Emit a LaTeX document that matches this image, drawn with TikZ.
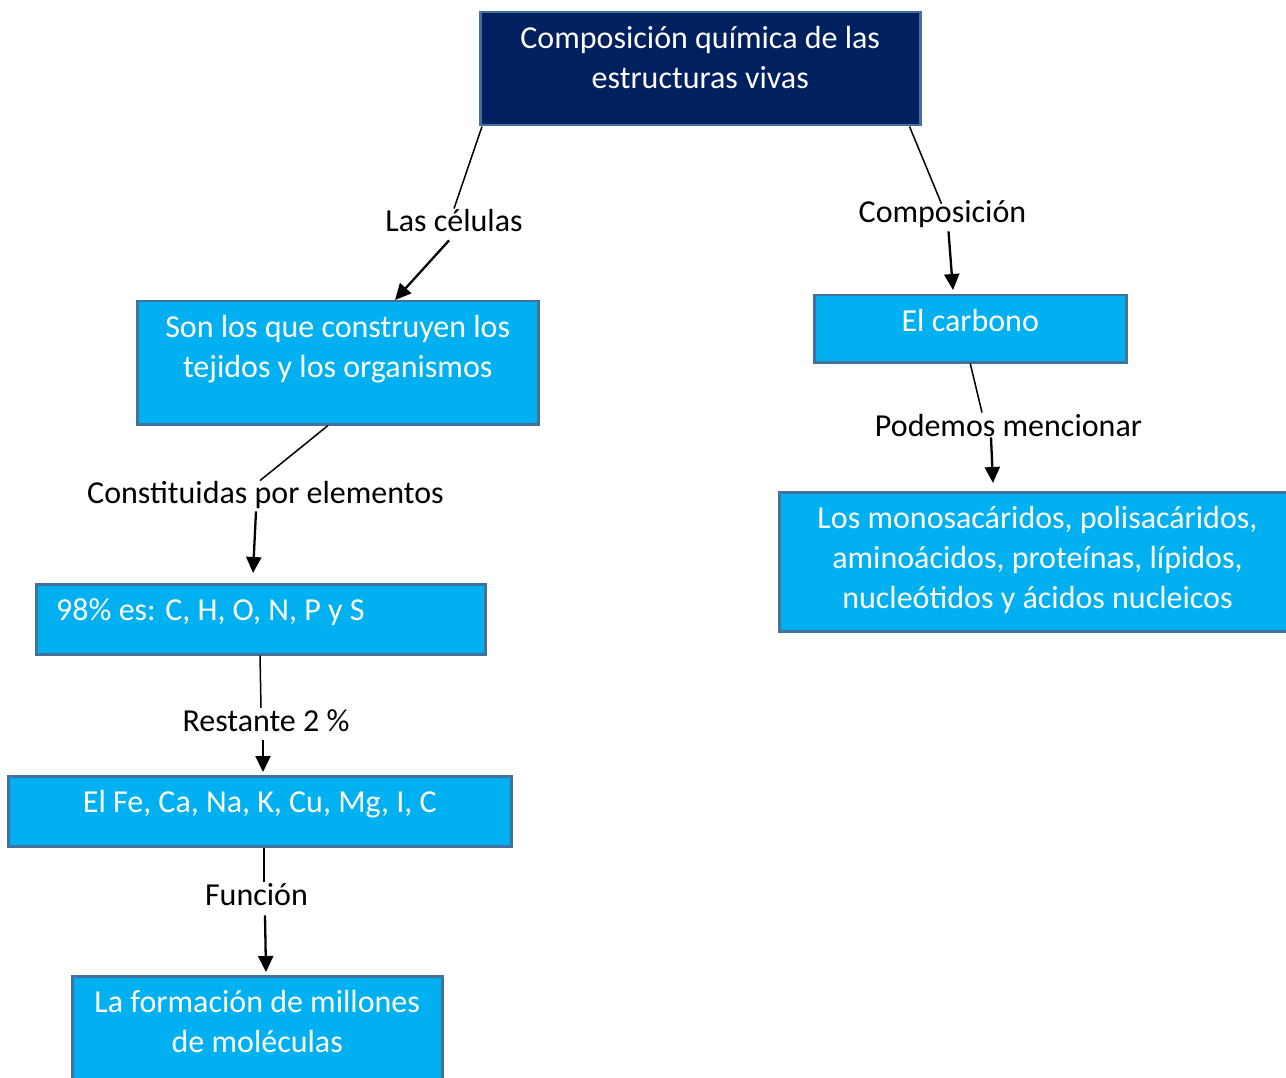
\documentclass[tikz,border=0pt]{standalone}
\usepackage{fontspec}
\setmainfont{Carlito}
\usetikzlibrary{arrows.meta,calc}
\definecolor{navy}{HTML}{002060}
\definecolor{sky}{HTML}{00B0F0}
\definecolor{rim}{HTML}{41719C}
% centred lines whose baseline is the baseline of the first line
\newcommand{\boxlines}[1]{\begin{tabular}[t]{@{}c@{}}#1\end{tabular}}
\begin{document}
\begin{tikzpicture}[x=1pt,y=-1pt,
  box/.style={draw=rim,line width=2.5pt,anchor=north west,inner sep=0pt,
    fill=sky,minimum width=#1},
  boxtext/.style={text=white,anchor=base,inner sep=0pt,
    font=\fontsize{32}{40}\selectfont},
  lab/.style={anchor=base,inner sep=1pt,font=\fontsize{32}{40}\selectfont},
  link/.style={line width=1.5pt},
  arr/.style={line width=2.3pt,-{Triangle[length=16pt,width=15pt]}}]
\path[use as bounding box] (0,0) rectangle (1286,1078);
\clip (0,0) rectangle (1286,1078);

% boxes
\node[box=440,minimum height=113,fill=navy] (root) at (479,11) {};
\node[box=401,minimum height=123] (son) at (136,300) {};
\node[box=312,minimum height=67] (carb) at (813,294) {};
\node[box=530,minimum height=139] (monos) at (778,491) {};
\node[box=449,minimum height=70] (n98) at (35,583) {};
\node[box=503,minimum height=70] (fe) at (7,775) {};
\node[box=370,minimum height=130] (form) at (71,975) {};

% box texts
\node[boxtext] (troot) at ($(root.north)+(0,37.5)$)
  {\boxlines{Composición química de las\\estructuras vivas}};
\node[boxtext] (tson) at ($(son.north)+(0,37.5)$)
  {\boxlines{Son los que construyen los\\tejidos y los organismos}};
\node[boxtext] (tcarb) at ($(carb.north)+(0,37.5)$) {El carbono};
\node[boxtext] (tmonos) at ($(monos.north west)+(259.5,37.5)$)
  {\boxlines{Los monosacáridos, polisacáridos,\\aminoácidos, proteínas, lípidos,\\nucleótidos y ácidos nucleicos}};
\node[boxtext,anchor=base west] (t98) at ($(n98.north west)+(21,37.5)$)
  {98\% es: C, H, O, N, P y S};
\node[boxtext] (tfe) at ($(fe.north)+(0,37.5)$) {El Fe, Ca, Na, K, Cu, Mg, I, C};
\node[boxtext] (tform) at ($(form.north)+(0,37.5)$)
  {\boxlines{La formación de millones\\de moléculas}};

% connector labels
\node[lab] (l1) at (454,232) {Las células};
\node[lab] (l2) at (942.5,223) {Composición};
\node[lab] (l3) at (265.5,503) {Constituidas por elementos};
\node[lab] (l4) at (266,731) {Restante 2 \%};
\node[lab] (l5) at (256.5,905) {Función};
\node[lab] (l6) at (1008.5,436) {Podemos mencionar};

% connectors
\draw[link] ($(root.south west)+(3,0)$) -- (l1.north);
\draw[arr] ($(l1.south)+(-5,7)$) -- ($(son.north west)+(259,0)$);

\draw[link] ($(root.south east)+(-12,0)$) -- ($(l2.north)+(-1,4)$);
\draw[arr] ($(l2.south)+(6,2)$) -- ($(carb.north west)+(140,-4)$);

\draw[link] ($(son.south west)+(192,0)$) -- ($(l3.north)+(-5.5,1)$);
\draw[arr] ($(l3.south)+(-9.5,2)$) -- ($(n98.north west)+(218,-10)$);

\draw[link] ($(n98.south west)+(225,0)$) -- ($(l4.north)+(-5,0)$);
\draw[arr] ($(l4.south)+(-3,8)$) -- ($(fe.north west)+(256,-3)$);

\draw[link] ($(fe.south west)+(257,0)$) -- ($(l5.north)+(7.5,0)$);
\draw[arr] ($(l5.south)+(8.5,9)$) -- ($(form.north west)+(195,-3)$);

\draw[link] (carb.south) -- ($(l6.north)+(-26.5,0)$);
\draw[arr] ($(l6.south)+(-17.5,0)$) -- ($(monos.north west)+(215,-8)$);
\end{tikzpicture}
\end{document}
